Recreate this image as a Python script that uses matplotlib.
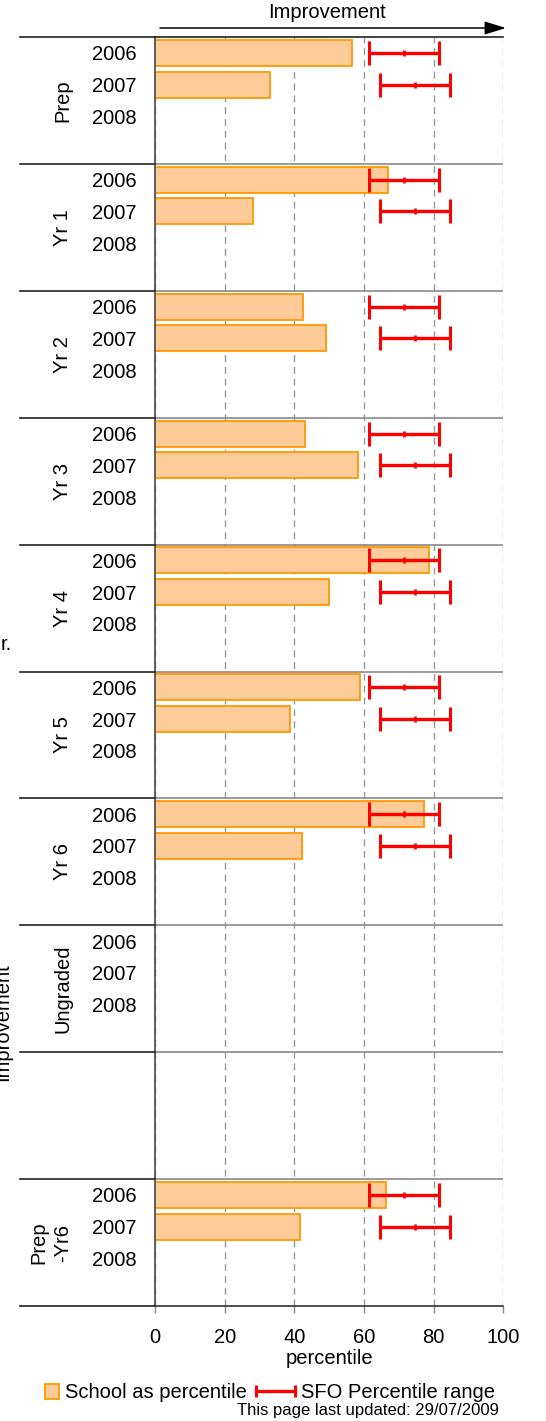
import numpy as np
import matplotlib
matplotlib.use("Agg")
import matplotlib.pyplot as plt
from matplotlib.patches import Patch, Rectangle
from matplotlib.lines import Line2D
from matplotlib.legend_handler import HandlerPatch, HandlerLine2D
from matplotlib.transforms import blended_transform_factory

plt.rcParams['font.family'] = ['Liberation Sans', 'DejaVu Sans']

# ---- data ----
groups = ["Prep", "Yr 1", "Yr 2", "Yr 3", "Yr 4", "Yr 5", "Yr 6", "Ungraded", "", "Prep\n-Yr6"]
years = ["2006", "2007", "2008"]
nan = np.nan
school_2006 = [56.7, 67.0, 42.5, 43.0, 78.8, 58.9, 77.1, nan, nan, 66.3]
school_2007 = [32.9, 28.0, 49.0, 58.2, 50.1, 38.9, 42.1, nan, nan, 41.5]
school_2008 = [nan] * 10
# SFO percentile range (low, mid, high) by year
sfo_2006 = (61.3, 71.5, 81.6)
sfo_2007 = (64.5, 74.7, 84.6)
sfo_groups = ["Prep", "Yr 1", "Yr 2", "Yr 3", "Yr 4", "Yr 5", "Yr 6", "Prep\n-Yr6"]
x_ticks = [0, 20, 40, 60, 80, 100]

W, H = 546, 1421
fig = plt.figure(figsize=(W / 100, H / 100), dpi=100)


def fx(px):
    return px / W


def fy(py):
    return 1 - py / H


ax_left, ax_right, ax_top, ax_bot = 155, 503.3, 37, 1306
ax = fig.add_axes([fx(ax_left), fy(ax_bot), fx(ax_right - ax_left), (ax_bot - ax_top) / H])

slots_per_group = 4
n_slots = slots_per_group * len(groups)
ax.set_xlim(0, 100)
ax.set_ylim(n_slots, 0)

BAR_FACE = "#FFCC99"
BAR_EDGE = "#FF9900"
SFO_RED = "#FF0000"
FS = 14.5

# school bars
for k, vals in enumerate([school_2006, school_2007, school_2008]):
    ypos = [slots_per_group * g + k + 0.5 for g in range(len(groups))]
    ax.barh(ypos, vals, height=0.82, color=BAR_FACE, edgecolor=BAR_EDGE,
            linewidth=1.3, zorder=2)

# SFO ranges
for k, (lo, mid, hi) in enumerate([sfo_2006, sfo_2007]):
    ypos = [slots_per_group * groups.index(g) + k + 0.5 for g in sfo_groups]
    mids = [mid] * len(ypos)
    ax.errorbar(mids, ypos, xerr=[[mid - lo] * len(ypos), [hi - mid] * len(ypos)],
                fmt='none', ecolor=SFO_RED, elinewidth=2.4, capsize=8.6,
                capthick=2.2, zorder=3)
    ax.plot(mids, ypos, linestyle='none', marker='|', markersize=4,
            markeredgewidth=2, color=SFO_RED, zorder=4)

# year labels
ytick_pos, ytick_lab = [], []
for g, name in enumerate(groups):
    if name == "":
        continue
    for k, yr in enumerate(years):
        ytick_pos.append(slots_per_group * g + k + 0.5)
        ytick_lab.append(yr)
ax.set_yticks(ytick_pos)
ax.set_yticklabels(ytick_lab, fontsize=FS)
ax.tick_params(axis='y', length=0, pad=13)

# x axis
ax.set_xticks(x_ticks)
ax.set_xticklabels([str(t) for t in x_ticks], fontsize=FS)
ax.tick_params(axis='x', length=5, width=1, color='#888888', pad=11)
ax.grid(axis='x', color='#999999', linestyle=(0, (5, 3.5)), linewidth=1.0)
ax.grid(axis='y', visible=False)
ax.set_axisbelow(True)

ax.spines['right'].set_visible(False)
ax.spines['left'].set_color('#555555')
ax.spines['left'].set_linewidth(1.3)
ax.spines['top'].set_color('#222222')
ax.spines['bottom'].set_color('#333333')
ax.spines['top'].set_linewidth(1.2)
ax.spines['bottom'].set_linewidth(1.2)

# group separators
trans = blended_transform_factory(ax.transAxes, ax.transData)
x_ext = (20 - ax_left) / (ax_right - ax_left)
for g in range(len(groups) + 1):
    yb = slots_per_group * g
    ax.plot([x_ext, 0], [yb, yb], color='#222222', linewidth=1.2,
            transform=trans, clip_on=False, zorder=5)
    if 0 < g < len(groups):
        ax.axhline(yb, color='#8a8a8a', linewidth=1.2, zorder=1)

# group labels
for g, name in enumerate(groups):
    if name == "":
        continue
    ax.text((72 - ax_left) / (ax_right - ax_left), slots_per_group * g + 2, name,
            transform=trans, rotation=90, ha='right', va='center',
            multialignment='center', fontsize=FS, linespacing=1.3)

# top arrow and label
ax.annotate("", xy=(fx(506), fy(28)), xytext=(fx(160), fy(28)),
            xycoords='figure fraction', textcoords='figure fraction',
            arrowprops=dict(arrowstyle='-|>,head_length=0.65,head_width=0.2',
                            mutation_scale=20, color='black', lw=1.1,
                            shrinkA=0, shrinkB=0))
fig.text(fx(327), fy(13), "Improvement", ha='center', va='center', fontsize=FS)

# side annotations running off the left edge of the page
fig.text(fx(12), fy(645), "r.", ha='right', va='center', fontsize=FS)
fig.text(fx(8), fy(1022), "Improvement", rotation=90, rotation_mode='anchor',
         ha='center', va='baseline', fontsize=FS)

# x label
fig.text(fx((ax_left + ax_right) / 2), fy(1358), "percentile", ha='center',
         va='center', fontsize=FS)


# legend
def square_patch(legend, orig_handle, xdescent, ydescent, width, height, fontsize):
    s = 0.7 * fontsize
    return Rectangle((-xdescent + width - s, -ydescent + (height - s) / 2), s, s)


h_bar = Patch(facecolor=BAR_FACE, edgecolor=BAR_EDGE, linewidth=1.3)
h_sfo = Line2D([], [], color=SFO_RED, linewidth=2.4, marker='|', markersize=8.6,
               markeredgewidth=2.2)
fig.legend([h_bar, h_sfo], ["School as percentile", "SFO Percentile range"],
           loc='center', bbox_to_anchor=(fx(257.5), fy(1393)), ncol=2,
           frameon=False, fontsize=FS, handlelength=1.95, handleheight=0.7,
           handletextpad=0.3, columnspacing=0.45, borderpad=0, borderaxespad=0,
           handler_map={Patch: HandlerPatch(patch_func=square_patch),
                        Line2D: HandlerLine2D(numpoints=2, marker_pad=0)})

fig.text(fx(499), fy(1410), "This page last updated: 29/07/2009", ha='right',
         va='center', fontsize=12)

fig.savefig("out.png", dpi=100)
